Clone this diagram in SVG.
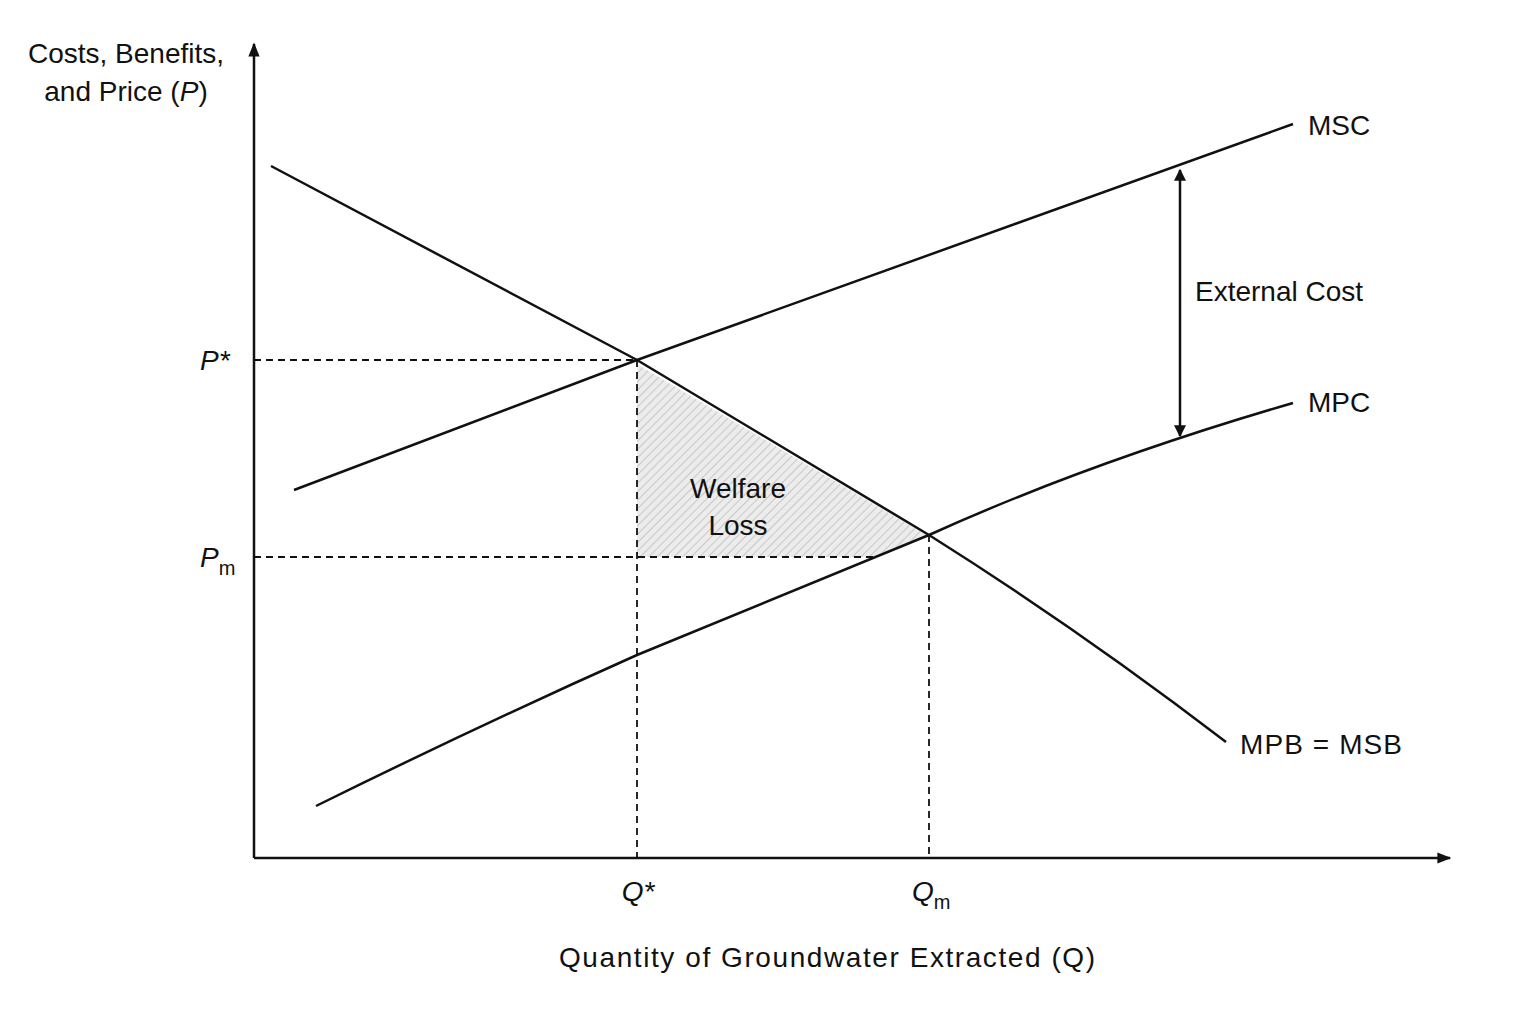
<svg xmlns="http://www.w3.org/2000/svg" width="1536" height="1024" viewBox="0 0 1536 1024">
<style>
text{font-family:"Liberation Sans",Arial,sans-serif;fill:#111;font-size:28px}
.c{fill:none;stroke:#111;stroke-width:2.5}
.d{fill:none;stroke:#111;stroke-width:1.8;stroke-dasharray:7,5}
.it{font-style:italic}
</style>
<defs>
<marker id="ah" viewBox="0 0 10 10" refX="9" refY="5" markerWidth="16" markerHeight="12" orient="auto-start-reverse" markerUnits="userSpaceOnUse"><path d="M0,0L10,5L0,10z" fill="#111"/></marker>
<marker id="ax" viewBox="0 0 10 10" refX="9" refY="5" markerWidth="18" markerHeight="14" orient="auto" markerUnits="userSpaceOnUse"><path d="M0,1L10,5L0,9z" fill="#111"/></marker>
<pattern id="h" width="6" height="6" patternUnits="userSpaceOnUse" patternTransform="rotate(45)"><rect width="6" height="6" fill="#ececec"/><line x1="0" y1="0" x2="0" y2="6" stroke="#bbb" stroke-width="1.5"/></pattern>
</defs>
<rect width="1536" height="1024" fill="#fff"/>
<g id="welfare-loss"><polygon points="637,364 926,535 872,557 637,557" fill="url(#h)"/><text x="738" y="498" text-anchor="middle">Welfare</text><text x="738" y="535" text-anchor="middle">Loss</text></g>
<g id="guides">
<line class="d" x1="254" y1="360" x2="637" y2="360"/>
<line class="d" x1="254" y1="557" x2="878" y2="557"/>
<line class="d" x1="637" y1="360" x2="637" y2="858"/>
<line class="d" x1="929" y1="535" x2="929" y2="858"/>
</g>
<g id="connectors">
<line class="c" x1="254" y1="858" x2="254" y2="44" marker-end="url(#ax)"/>
<line class="c" x1="254" y1="858" x2="1450" y2="858" marker-end="url(#ax)"/>
<path class="c" d="M271,166 L637,360 L929,535 Q1080,630 1226,742"/>
<path class="c" d="M294,490 L637,360 L1293,124"/>
<path class="c" d="M316,806 Q480,725 637,655 L929,535 Q1090,462 1293,403"/>
<line class="c" x1="1180" y1="170" x2="1180" y2="436" stroke-width="2" marker-start="url(#ah)" marker-end="url(#ah)"/>
</g>
<g id="labels">
<text x="126" y="63" text-anchor="middle">Costs, Benefits,</text>
<text x="126" y="101" text-anchor="middle">and Price (<tspan class="it">P</tspan>)</text>
<text x="1308" y="135">MSC</text>
<text x="1308" y="412">MPC</text>
<text x="1240" y="754" textLength="162">MPB = MSB</text>
<text x="1195" y="301">External Cost</text>
<text x="200" y="370" class="it">P*</text>
<text x="200" y="567" class="it">P<tspan font-size="20" font-style="normal" dy="8">m</tspan></text>
<text x="638" y="901" text-anchor="middle" class="it">Q*</text>
<text x="912" y="901" class="it">Q<tspan font-size="20" font-style="normal" dy="8">m</tspan></text>
<text x="827" y="967" text-anchor="middle" font-size="30" textLength="536">Quantity of Groundwater Extracted (Q)</text>
</g>
</svg>
